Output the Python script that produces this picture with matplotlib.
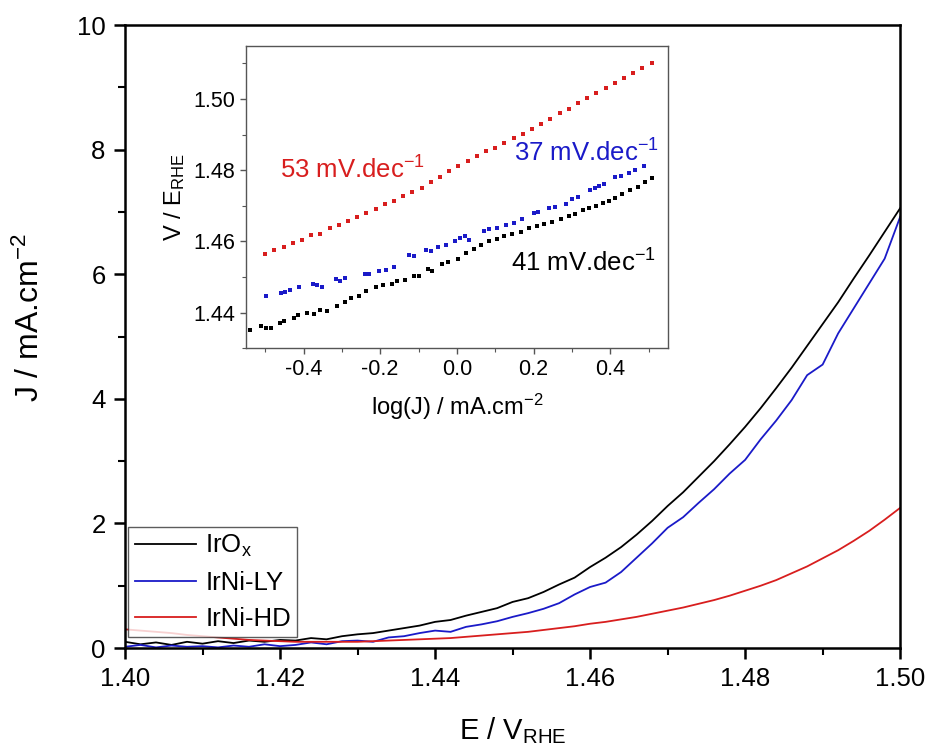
import numpy as np
import matplotlib
matplotlib.use("Agg")
import matplotlib.pyplot as plt
from matplotlib.ticker import MultipleLocator, FormatStrFormatter

plt.rcParams['font.family'] = ['Liberation Sans', 'DejaVu Sans']
plt.rcParams['mathtext.fontset'] = 'custom'
plt.rcParams['mathtext.rm'] = 'Liberation Sans'
plt.rcParams['mathtext.it'] = 'Liberation Sans:italic'
plt.rcParams['mathtext.default'] = 'regular'

# ---------------- main LSV data ----------------
E = [1.400, 1.402, 1.404, 1.406, 1.408, 1.410, 1.412, 1.414, 1.416, 1.418,
     1.420, 1.422, 1.424, 1.426, 1.428, 1.430, 1.432, 1.434, 1.436, 1.438,
     1.440, 1.442, 1.444, 1.446, 1.448, 1.450, 1.452, 1.454, 1.456, 1.458,
     1.460, 1.462, 1.464, 1.466, 1.468, 1.470, 1.472, 1.474, 1.476, 1.478,
     1.480, 1.482, 1.484, 1.486, 1.488, 1.490, 1.492, 1.494, 1.496, 1.498,
     1.500]
J_IrOx = [0.10, 0.06, 0.09, 0.05, 0.10, 0.07, 0.11, 0.08, 0.12, 0.10,
          0.13, 0.12, 0.16, 0.14, 0.19, 0.22, 0.24, 0.28, 0.32, 0.36,
          0.42, 0.45, 0.52, 0.58, 0.64, 0.74, 0.80, 0.90, 1.02, 1.13,
          1.30, 1.45, 1.62, 1.82, 2.04, 2.28, 2.50, 2.75, 3.00, 3.27,
          3.55, 3.85, 4.17, 4.50, 4.85, 5.20, 5.55, 5.93, 6.30, 6.68,
          7.06]
J_LY = [0.02, 0.05, 0.01, 0.04, 0.02, 0.03, 0.01, 0.04, 0.02, 0.06,
        0.03, 0.05, 0.09, 0.06, 0.11, 0.12, 0.10, 0.17, 0.19, 0.24,
        0.28, 0.26, 0.34, 0.38, 0.43, 0.50, 0.56, 0.63, 0.72, 0.86,
        0.98, 1.05, 1.22, 1.45, 1.68, 1.93, 2.10, 2.33, 2.55, 2.80,
        3.02, 3.35, 3.65, 3.98, 4.38, 4.55, 5.05, 5.45, 5.85, 6.25,
        6.92]
J_HD = [0.30, 0.28, 0.26, 0.24, 0.21, 0.19, 0.17, 0.15, 0.13, 0.12,
        0.11, 0.10, 0.10, 0.10, 0.10, 0.10, 0.11, 0.12, 0.13, 0.14,
        0.15, 0.16, 0.18, 0.20, 0.22, 0.24, 0.26, 0.29, 0.32, 0.35,
        0.39, 0.42, 0.46, 0.50, 0.55, 0.60, 0.65, 0.71, 0.77, 0.84,
        0.92, 1.00, 1.09, 1.20, 1.31, 1.44, 1.57, 1.72, 1.88, 2.06,
        2.25]

# ---------------- Tafel inset data ----------------
logJ_HD = [-0.500, -0.476, -0.452, -0.428, -0.404, -0.380, -0.356, -0.332, -0.308,
           -0.284, -0.260, -0.236, -0.212, -0.188, -0.164, -0.140, -0.116, -0.092,
           -0.068, -0.044, -0.020, 0.004, 0.028, 0.052, 0.076, 0.100, 0.124, 0.148,
           0.172, 0.196, 0.220, 0.244, 0.268, 0.292, 0.316, 0.340, 0.364, 0.388,
           0.412, 0.436, 0.460, 0.484, 0.508]
V_HD = [1.4564, 1.4575, 1.4584, 1.4596, 1.4603, 1.4617, 1.4622, 1.4638, 1.4645,
        1.4657, 1.4668, 1.4681, 1.4690, 1.4704, 1.4713, 1.4727, 1.4739, 1.4751,
        1.4768, 1.4782, 1.4797, 1.4812, 1.4827, 1.4839, 1.4853, 1.4864, 1.4877, 1.4891,
        1.4903, 1.4917, 1.4931, 1.4945, 1.4960, 1.4973, 1.4988, 1.5002, 1.5016, 1.5031,
        1.5044, 1.5058, 1.5072, 1.5086, 1.5100]

logJ_LY = [-0.497, -0.460, -0.448, -0.436, -0.412, -0.376, -0.364, -0.352, -0.316,
           -0.304, -0.292, -0.240, -0.228, -0.204, -0.184, -0.164, -0.124, -0.112,
           -0.080, -0.068, -0.048, -0.028, -0.004, 0.008, 0.020, 0.032, 0.072, 0.084,
           0.104, 0.128, 0.150, 0.170, 0.200, 0.212, 0.240, 0.256, 0.284, 0.300,
           0.316, 0.348, 0.360, 0.372, 0.384, 0.412, 0.428, 0.448, 0.464, 0.488]
V_LY = [1.4448, 1.4455, 1.4458, 1.4464, 1.4472, 1.4481, 1.4478, 1.4472, 1.4494,
        1.4488, 1.4497, 1.4510, 1.4508, 1.4516, 1.4521, 1.4528, 1.4563, 1.4558,
        1.4577, 1.4573, 1.4584, 1.4590, 1.4601, 1.4611, 1.4615, 1.4603, 1.4629, 1.4634,
        1.4639, 1.4645, 1.4651, 1.4662, 1.4681, 1.4683, 1.4694, 1.4697, 1.4706, 1.4718,
        1.4724, 1.4744, 1.4750, 1.4757, 1.4761, 1.4780, 1.4785, 1.4792, 1.4800, 1.4811]

logJ_IrOx = [-0.540, -0.510, -0.498, -0.486, -0.462, -0.450, -0.426, -0.414, -0.390,
             -0.372, -0.356, -0.340, -0.312, -0.292, -0.276, -0.256, -0.236, -0.212,
             -0.192, -0.170, -0.156, -0.136, -0.112, -0.100, -0.076, -0.064, -0.040,
             -0.024, 0.004, 0.024, 0.044, 0.064, 0.084, 0.104, 0.124, 0.144, 0.168,
             0.188, 0.208, 0.228, 0.248, 0.272, 0.292, 0.308, 0.328, 0.344, 0.364,
             0.380, 0.396, 0.412, 0.432, 0.452, 0.472, 0.492, 0.508]
V_IrOx = [1.4352, 1.4362, 1.4358, 1.4356, 1.4371, 1.4378, 1.4386, 1.4393, 1.4400,
          1.4397, 1.4408, 1.4406, 1.4420, 1.4430, 1.4440, 1.4446, 1.4462, 1.4472,
          1.4477, 1.4480, 1.4488, 1.4492, 1.4504, 1.4502, 1.4522, 1.4518, 1.4537,
          1.4541, 1.4552, 1.4568, 1.4580, 1.4590, 1.4600, 1.4608, 1.4615, 1.4620, 1.4628,
          1.4637, 1.4643, 1.4650, 1.4656, 1.4664, 1.4671, 1.4678, 1.4688, 1.4693, 1.4700,
          1.4707, 1.4714, 1.4722, 1.4732, 1.4744, 1.4754, 1.4767, 1.4779]

labels = ['IrO$_x$', 'IrNi-LY', 'IrNi-HD']
slopes = ['53 mV.dec$^{-1}$', '37 mV.dec$^{-1}$', '41 mV.dec$^{-1}$']
BLACK, BLUE, RED = '#000000', '#1a1ac8', '#d81e1e'

fig = plt.figure(figsize=(9.28, 7.49), dpi=100)
ax = fig.add_axes([0.1347, 0.1348, 0.8353, 0.8318])

ax.plot(E, J_IrOx, color=BLACK, lw=1.3, label=labels[0])
ax.plot(E, J_LY, color=BLUE, lw=1.3, label=labels[1])
ax.plot(E, J_HD, color=RED, lw=1.3, label=labels[2])

ax.set_xlim(1.40, 1.50)
ax.set_ylim(0, 10)
ax.xaxis.set_major_locator(MultipleLocator(0.02))
ax.xaxis.set_minor_locator(MultipleLocator(0.01))
ax.yaxis.set_major_locator(MultipleLocator(2))
ax.yaxis.set_minor_locator(MultipleLocator(1))
ax.xaxis.set_major_formatter(FormatStrFormatter('%.2f'))
ax.tick_params(which='major', direction='out', length=8, width=1.8, labelsize=18.5, pad=6)
ax.tick_params(which='minor', direction='out', length=5, width=1.5)
for s in ax.spines.values():
    s.set_linewidth(1.8)
ax.set_xlabel('E / V$_{\\mathrm{RHE}}$', fontsize=21)
ax.set_ylabel('J / mA.cm$^{-2}$', fontsize=23)
ax.xaxis.set_label_coords(0.5, -0.108)
ax.yaxis.set_label_coords(-0.102, 0.53)

leg = ax.legend(loc='lower left', bbox_to_anchor=(0.004, 0.0177), fontsize=18.5,
                frameon=True, fancybox=False, edgecolor='#333333', handlelength=2.4,
                handletextpad=0.35, borderpad=0.25, labelspacing=0.45, borderaxespad=0)
leg.get_frame().set_linewidth(1.0)

# inset
ins = fig.add_axes([0.2651, 0.535, 0.4544, 0.404])
ins.scatter(logJ_HD, V_HD, s=7, marker='s', color=RED, linewidths=0)
ins.scatter(logJ_LY, V_LY, s=7, marker='s', color=BLUE, linewidths=0)
ins.scatter(logJ_IrOx, V_IrOx, s=7, marker='s', color=BLACK, linewidths=0)
ins.set_xlim(-0.55, 0.55)
ins.set_ylim(1.430, 1.515)
ins.xaxis.set_major_locator(MultipleLocator(0.2))
ins.xaxis.set_minor_locator(MultipleLocator(0.1))
ins.yaxis.set_major_locator(MultipleLocator(0.02))
ins.yaxis.set_minor_locator(MultipleLocator(0.01))
ins.xaxis.set_major_formatter(FormatStrFormatter('%.1f'))
ins.yaxis.set_major_formatter(FormatStrFormatter('%.2f'))
ins.tick_params(which='major', direction='out', length=4, width=1.0, labelsize=15.5,
                color='#555555', pad=4)
ins.tick_params(which='minor', direction='out', length=3, width=0.8, color='#555555')
for s in ins.spines.values():
    s.set_linewidth(1.0)
    s.set_color('#555555')
ins.set_xlabel('log(J) / mA.cm$^{-2}$', fontsize=17, labelpad=8)
ins.set_ylabel('V / E$_{\\mathrm{RHE}}$', fontsize=17, labelpad=4)

ins.text(-0.462, 1.4802, slopes[0], color=RED, fontsize=18.5, va='center', ha='left')
ins.text(0.150, 1.4849, slopes[1], color=BLUE, fontsize=18.5, va='center', ha='left')
ins.text(0.140, 1.4540, slopes[2], color=BLACK, fontsize=18.5, va='center', ha='left')

fig.savefig('out.png', dpi=100)
